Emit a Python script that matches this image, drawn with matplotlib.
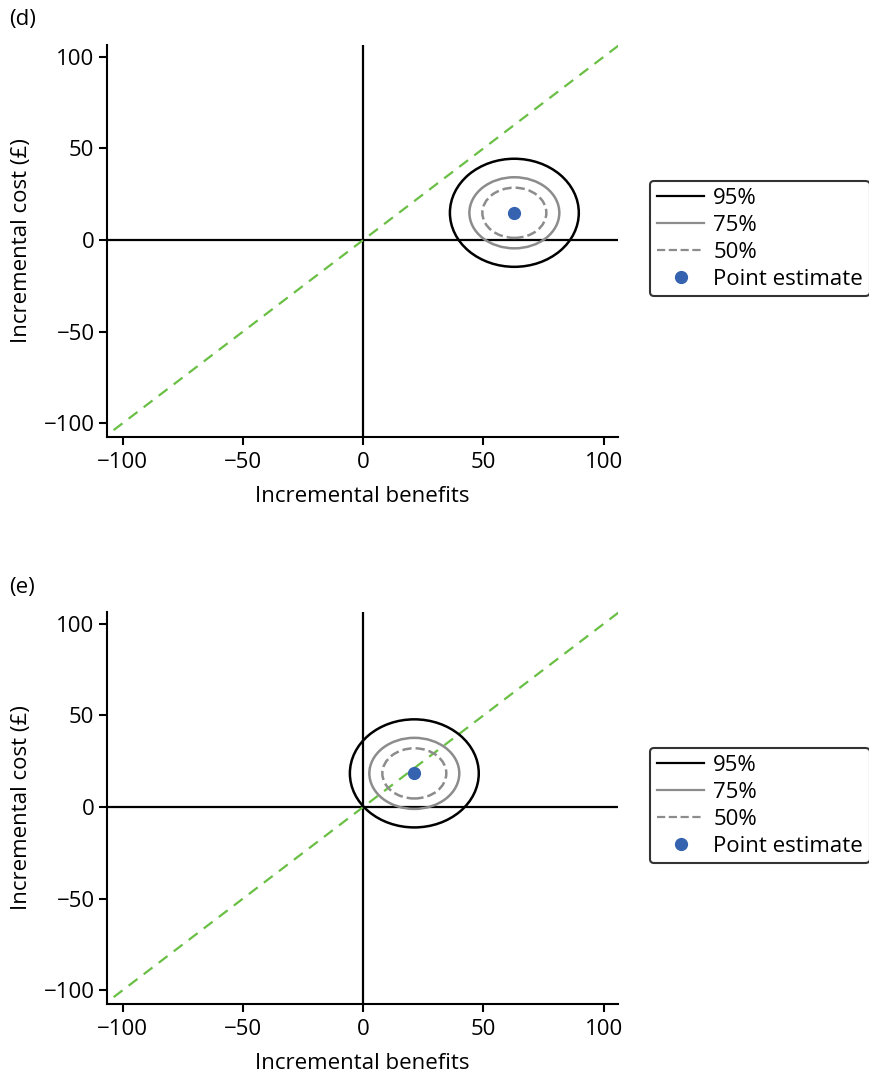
import matplotlib
matplotlib.use('Agg')
import matplotlib.pyplot as plt
from matplotlib.patches import Ellipse
from matplotlib.lines import Line2D

plt.rcParams['font.family'] = ['Open Sans', 'DejaVu Sans']

# data
panels = ['(d)', '(e)']
point_x = [62.9, 21.3]
point_y = [14.9, 18.4]
levels = ['95%', '75%', '50%']
half_w = [26.8, 18.7, 13.3]
half_h = [29.5, 19.4, 13.7]
ticks = [-100, -50, 0, 50, 100]
wtp_x = [-110, 110]   # threshold line, cost = benefit
wtp_y = [-110, 110]

level_colors = ['black', '#8c8c8c', '#8c8c8c']
level_styles = ['-', '-', '--']
green = '#6abf45'
blue = '#3563b0'
fs = 16

fig = plt.figure(figsize=(8.69, 10.75), dpi=100)
tops = [45, 612]

for i, name in enumerate(panels):
    top = tops[i]
    ax = fig.add_axes([107 / 869, 1 - (top + 392) / 1075, 511 / 869, 392 / 1075])
    ax.set_xlim(-106.5, 106)
    ax.set_ylim(-107.5, 106.5)

    ax.axhline(0, color='black', lw=1.6, zorder=1)
    ax.axvline(0, color='black', lw=1.6, zorder=1)
    ax.plot(wtp_x, wtp_y, color=green, lw=1.6, ls=(0, (5, 3.5)), zorder=2)

    for w, h, c, s in zip(half_w, half_h, level_colors, level_styles):
        ax.add_patch(Ellipse((point_x[i], point_y[i]), 2 * w, 2 * h, fill=False,
                             edgecolor=c, ls=s, lw=1.8, zorder=3))
    ax.plot(point_x[i], point_y[i], 'o', color=blue, ms=8.5, zorder=4)

    ax.set_xticks(ticks)
    ax.set_yticks(ticks)
    ax.set_xticklabels([str(t).replace('-', '\u2212') for t in ticks])
    ax.set_yticklabels([str(t).replace('-', '\u2212') for t in ticks])
    ax.tick_params(labelsize=fs, width=1.5, length=6, direction='out', pad=3)
    ax.tick_params(axis='x', pad=5)
    for sp in ['top', 'right']:
        ax.spines[sp].set_visible(False)
    for sp in ['left', 'bottom']:
        ax.spines[sp].set_linewidth(1.5)
    ax.set_xlabel('Incremental benefits', fontsize=fs, labelpad=9)
    ax.set_ylabel('Incremental cost (£)', fontsize=fs, labelpad=8)

    fig.text(9 / 869, 1 - (top - 25) / 1075, name, fontsize=fs, va='center', ha='left')

    handles = [Line2D([], [], color=c, ls=s, lw=1.6) for c, s in zip(level_colors, level_styles)]
    handles.append(Line2D([], [], marker='o', color=blue, ls='none', ms=8.5))
    leg = fig.legend(handles, levels + ['Point estimate'], loc='upper left',
                     bbox_to_anchor=(650 / 869, 1 - (top + 136) / 1075),
                     fontsize=fs, frameon=True, fancybox=True, edgecolor='black',
                     handlelength=2.15, handletextpad=0.4, labelspacing=0.27,
                     borderpad=0.3, borderaxespad=0)
    leg.get_frame().set_linewidth(1.5)

fig.savefig('out.png', dpi=100)
